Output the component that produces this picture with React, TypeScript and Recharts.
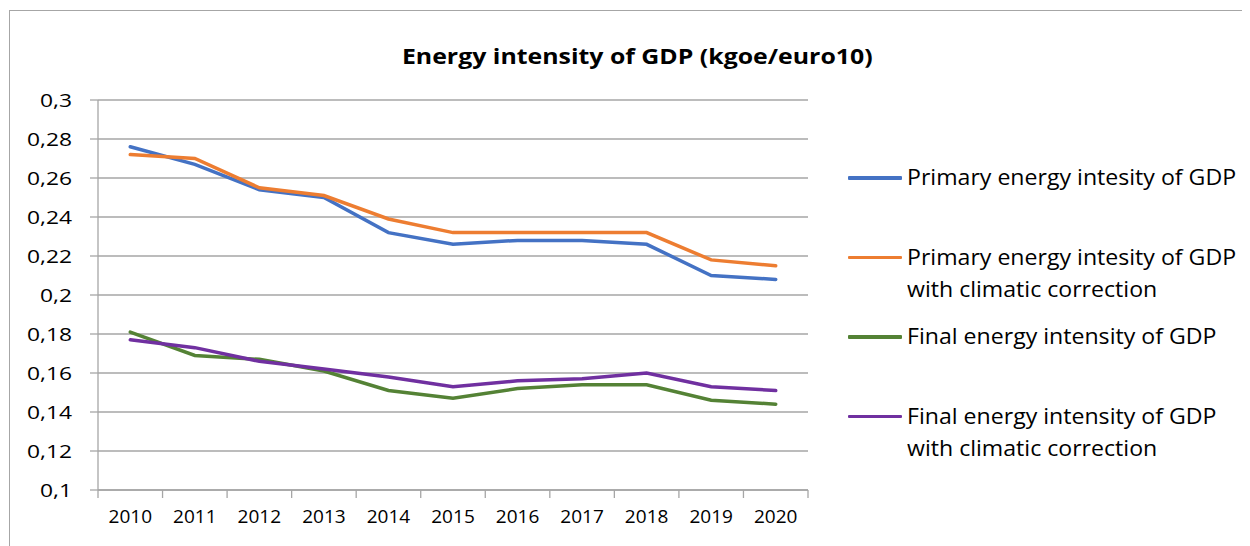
import React from "react";
import { LineChart, Line, XAxis, YAxis, CartesianGrid, Legend } from "recharts";

const years = ["2010", "2011", "2012", "2013", "2014", "2015", "2016", "2017", "2018", "2019", "2020"];
const primary = [0.276, 0.267, 0.254, 0.250, 0.232, 0.226, 0.228, 0.228, 0.226, 0.210, 0.208];
const primaryClim = [0.272, 0.270, 0.255, 0.251, 0.239, 0.232, 0.232, 0.232, 0.232, 0.218, 0.215];
const finalE = [0.181, 0.169, 0.167, 0.161, 0.151, 0.147, 0.152, 0.154, 0.154, 0.146, 0.144];
const finalClim = [0.177, 0.173, 0.166, 0.162, 0.158, 0.153, 0.156, 0.157, 0.160, 0.153, 0.151];
const yTicks = [0.1, 0.12, 0.14, 0.16, 0.18, 0.2, 0.22, 0.24, 0.26, 0.28, 0.3];

const seriesNames = [
  "Primary energy intesity of GDP",
  "Primary energy intesity of GDP with climatic correction",
  "Final energy intensity of GDP",
  "Final energy intensity of GDP with climatic correction",
];
const legendLines = [
  ["Primary energy intesity of GDP"],
  ["Primary energy intesity of GDP", "with climatic correction"],
  ["Final energy intensity of GDP"],
  ["Final energy intensity of GDP", "with climatic correction"],
];
const colors = ["#4472C4", "#ED7D31", "#548235", "#7030A0"];

const data = years.map((y, i) => ({
  year: y,
  s0: primary[i],
  s1: primaryClim[i],
  s2: finalE[i],
  s3: finalClim[i],
}));

const FONT = "'Open Sans', sans-serif";
const PLOT_W = 710;
const BW = PLOT_W / years.length;
const GRID = "#a6a6a6";

const fmt = (v: number) => String(Number(v.toFixed(2))).replace(".", ",");

const XTick = (props: any) => {
  const { x, y, payload, index } = props;
  return (
    <g>
      <line x1={x - BW / 2} x2={x - BW / 2} y1={y} y2={y + 8} stroke={GRID} strokeWidth={1.3} />
      {index === years.length - 1 && (
        <line x1={x + BW / 2} x2={x + BW / 2} y1={y} y2={y + 8} stroke={GRID} strokeWidth={1.3} />
      )}
      <g transform={`translate(${x},${y + 33}) scale(1.03,1)`}>
        <text x={0} y={0} textAnchor="middle" fill="#000" fontSize={18.5} fontFamily={FONT}>
          {payload.value}
        </text>
      </g>
    </g>
  );
};

const YTick = (props: any) => {
  const { x, y, payload } = props;
  return (
    <g transform={`translate(${x},${y}) scale(1.2,1)`}>
      <text x={0} y={0} dy="0.35em" textAnchor="end" fill="#000" fontSize={19} fontFamily={FONT}>
        {fmt(payload.value)}
      </text>
    </g>
  );
};

const LegendContent = () => (
  <div style={{ position: "relative", width: 410, height: 330, fontFamily: FONT, fontSize: 21, color: "#000" }}>
    {legendLines.map((lines, i) => (
      <div key={i} style={{ position: "absolute", left: 0, top: i * 79.5, height: 79 }}>
        <div
          style={{
            position: "absolute",
            left: 0,
            top: 16,
            width: 54,
            height: 3.5,
            background: colors[i],
            borderRadius: 1,
          }}
        />
        {lines.map((t, j) => (
          <div
            key={j}
            style={{
              position: "absolute",
              left: 59,
              top: j * 32,
              whiteSpace: "nowrap",
              lineHeight: "34px",
              transform: "scaleX(1.1)",
              transformOrigin: "0 0",
            }}
          >
            {t}
          </div>
        ))}
      </div>
    ))}
  </div>
);

export default function App() {
  return (
    <div style={{ position: "relative", width: 1242, height: 538, overflow: "hidden", background: "#fff" }}>
      <div
        style={{
          position: "absolute",
          left: 1,
          top: 2,
          width: 1300,
          height: 600,
          border: "1.5px solid #a6a6a6",
          boxSizing: "border-box",
        }}
      />
      <div
        style={{
          position: "absolute",
          left: 0,
          width: 1258,
          top: 32,
          textAlign: "center",
          fontFamily: FONT,
          fontWeight: 700,
          fontSize: 22,
          color: "#000",
        }}
      >
        <span style={{ display: "inline-block", transform: "scaleX(1.13)" }}>
          Energy intensity of GDP (kgoe/euro10)
        </span>
      </div>
      <div style={{ position: "absolute", left: 0, top: 0 }}>
        <LineChart width={1242} height={538} data={data} margin={{ top: 92, right: 442, bottom: 0, left: 0 }}>
          <CartesianGrid vertical={false} stroke={GRID} strokeWidth={1.3} />
          <XAxis
            dataKey="year"
            height={56}
            tickSize={0}
            tickMargin={0}
            tickLine={false}
            axisLine={{ stroke: GRID, strokeWidth: 1.3 }}
            tick={<XTick />}
            interval={0}
            padding={{ left: BW / 2, right: BW / 2 }}
          />
          <YAxis
            width={90}
            domain={[0.1, 0.3]}
            ticks={yTicks}
            interval={0}
            tickSize={8}
            tickMargin={18}
            axisLine={{ stroke: GRID, strokeWidth: 1.3 }}
            tickLine={{ stroke: GRID, strokeWidth: 1.3 }}
            tick={<YTick />}
          />
          <Legend
            layout="horizontal"
            verticalAlign="middle"
            align="center"
            content={<LegendContent />}
            wrapperStyle={{ position: "absolute", left: 840, top: 152, width: 410, height: 330 }}
          />
          {["s0", "s1", "s2", "s3"].map((k, i) => (
            <Line
              key={k}
              dataKey={k}
              name={seriesNames[i]}
              stroke={colors[i]}
              strokeWidth={3.5}
              dot={false}
              isAnimationActive={false}
              type="linear"
              strokeLinecap="round"
            />
          ))}
        </LineChart>
      </div>
    </div>
  );
}
